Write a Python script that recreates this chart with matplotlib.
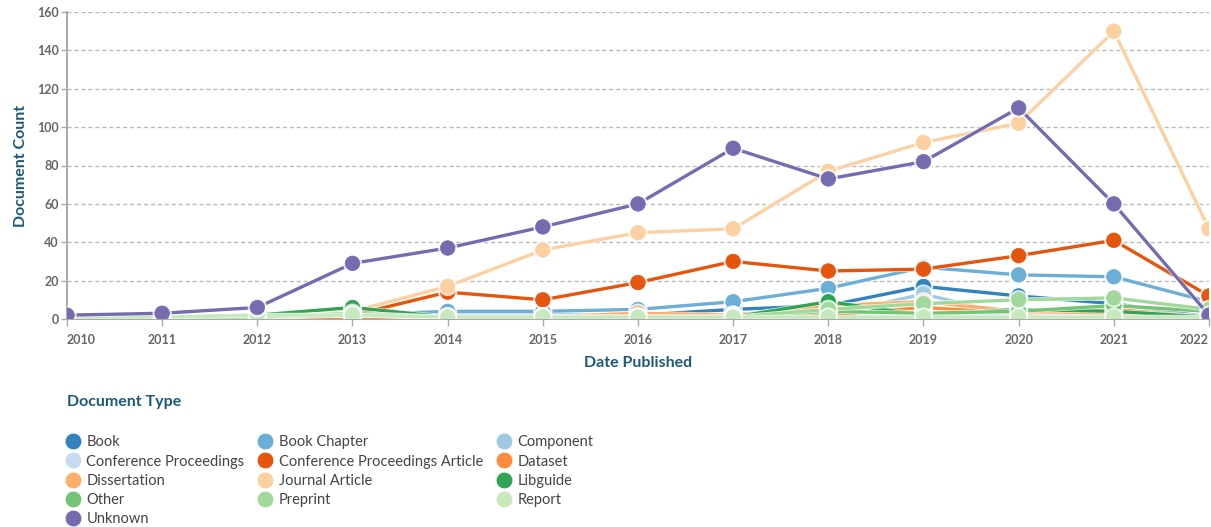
import matplotlib
matplotlib.use("Agg")
import matplotlib.pyplot as plt
from matplotlib.lines import Line2D
import matplotlib.patheffects as pe

plt.rcParams['font.family'] = ['Lato', 'DejaVu Sans']

years = [2010, 2011, 2012, 2013, 2014, 2015, 2016, 2017, 2018, 2019, 2020, 2021, 2022]

series_names = ["Book", "Book Chapter", "Component", "Conference Proceedings",
                "Conference Proceedings Article", "Dataset", "Dissertation",
                "Journal Article", "Libguide", "Other", "Preprint", "Report", "Unknown"]

book = [1, 1, 2, 1, 2, 2, 2, 5, 7, 17, 12, 8, 1]
book_chapter = [1, 1, 1, 2, 4, 4, 5, 9, 16, 27, 23, 22, 9]
component = [0, 0, 0, 1, 1, 1, 1, 1, 2, 13, 1, 1, 0]
conference_proceedings = [1, 1, 1, 1, 1, 1, 1, 2, 2, 3, 2, 2, 1]
conference_article = [1, 1, 1, 2, 14, 10, 19, 30, 25, 26, 33, 41, 12]
dataset = [0, 0, 0, 1, 0, 0, 1, 1, 2, 6, 3, 5, 1]
dissertation = [1, 1, 1, 2, 1, 1, 3, 2, 7, 9, 4, 3, 1]
journal_article = [1, 1, 1, 4, 17, 36, 45, 47, 77, 92, 102, 150, 47]
libguide = [1, 1, 2, 6, 1, 1, 1, 1, 9, 2, 5, 4, 1]
other = [1, 1, 1, 2, 1, 1, 1, 1, 4, 3, 4, 7, 4]
preprint = [1, 1, 1, 3, 1, 1, 1, 1, 5, 8, 10, 11, 5]
report = [1, 1, 2, 2, 1, 1, 1, 1, 1, 1, 1, 1, 1]
unknown = [2, 3, 6, 29, 37, 48, 60, 89, 73, 82, 110, 60, 2]

series_values = [book, book_chapter, component, conference_proceedings,
                 conference_article, dataset, dissertation, journal_article,
                 libguide, other, preprint, report, unknown]

colors = ["#3182bd", "#6baed6", "#9ecae1", "#c6dbef", "#e6550d", "#fd8d3c",
          "#fdae6b", "#fdd0a2", "#31a354", "#74c476", "#a1d99b", "#c7e9c0", "#756bb1"]

y_ticks = [0, 20, 40, 60, 80, 100, 120, 140, 160]

W, H = 1211, 527
fig = plt.figure(figsize=(W / 100, H / 100), dpi=100)
ax = fig.add_axes([67 / W, 1 - 319 / H, (1209 - 67) / W, (319 - 12) / H])

teal = "#1d5a78"
grey_txt = "#666666"
grey_line = "#aaaaaa"

for name, vals, c in zip(series_names, series_values, colors):
    ax.plot(years, vals, color=c, lw=2.4, marker='o', ms=10.5,
            markeredgecolor=c, markeredgewidth=0.5, label=name, zorder=3,
            path_effects=[pe.Stroke(linewidth=3.4, foreground='white', alpha=0.8), pe.Normal()])

ax.set_xlim(2010, 2022)
ax.set_ylim(0, 160)
ax.set_yticks(y_ticks)
ax.set_xticks(years)
ax.set_xticklabels([str(y) for y in years])
ax.yaxis.grid(True, linestyle=(0, (3, 2)), color="#bbbbbb", lw=1)
ax.set_axisbelow(True)

for s in ['top', 'right']:
    ax.spines[s].set_visible(False)
ax.spines['left'].set_color(grey_line)
ax.spines['left'].set_linewidth(1.5)
ax.spines['bottom'].set_color(grey_line)
ax.spines['bottom'].set_linewidth(1.5)

ax.tick_params(axis='y', colors=grey_line, labelcolor=grey_txt, labelsize=9, length=4, width=1, pad=2)
ax.tick_params(axis='x', colors=grey_line, labelcolor=grey_txt, labelsize=9, length=5, width=1, pad=6)
for lab in ax.get_xticklabels() + ax.get_yticklabels():
    lab.set_fontweight('bold')
xl = ax.get_xticklabels()
xl[0].set_horizontalalignment('left')
xl[-1].set_horizontalalignment('right')

ax.set_ylabel("Document Count", color=teal, fontsize=11.5, fontweight='bold', labelpad=6)
ax.set_xlabel("Date Published", color=teal, fontsize=11.5, fontweight='bold', labelpad=7)

# Legend (row-major order in reference -> column-major arrangement for matplotlib)
handles = [Line2D([], [], marker='o', ls='none', ms=12, color=c, markeredgecolor='white',
                  markeredgewidth=0.5) for c in colors]
ncol = 3
idx_cols = [[i for i in range(len(series_names)) if i % ncol == k] for k in range(ncol)]
order = [i for col in idx_cols for i in col]
leg = fig.legend([handles[i] for i in order], [series_names[i] for i in order],
                 loc='upper left', bbox_to_anchor=(58 / W, 1 - 428 / H), ncol=ncol,
                 frameon=False, fontsize=10.5, handletextpad=0.45, handlelength=1.0,
                 columnspacing=0.9, labelspacing=0.36, borderpad=0, labelcolor="#444444")
fig.text(67 / W, 1 - 402 / H, "Document Type", color=teal, fontsize=11.5,
         fontweight='bold', va='center', ha='left')

fig.savefig("out.png", dpi=100)
